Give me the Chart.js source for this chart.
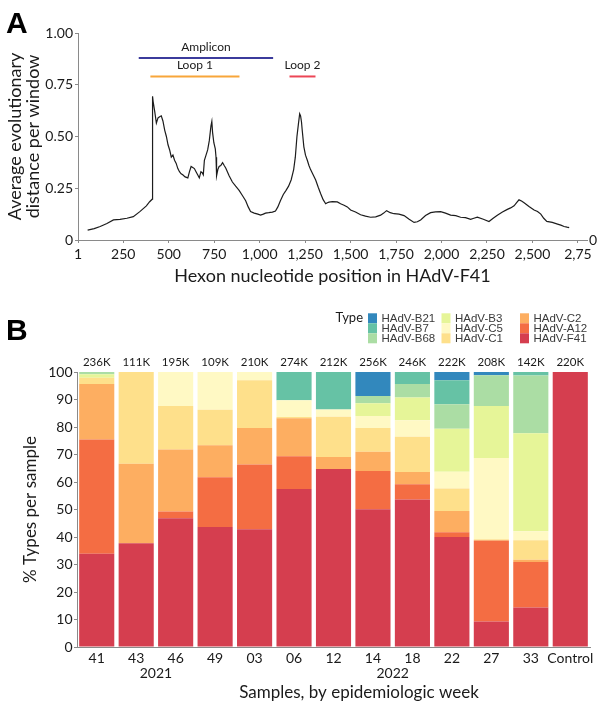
<!DOCTYPE html>
<html>
<head>
<meta charset="utf-8">
<script src="https://cdn.jsdelivr.net/npm/chart.js@4/dist/chart.umd.min.js"></script>
<style>
  body { margin: 0; background: #fff; }
  #wrap { position: relative; width: 600px; height: 704px; }
  .panel { position: absolute; left: 0; width: 600px; }
  .letter { position: absolute; left: 6px; font: bold 30px 'Liberation Sans', Arial, sans-serif; line-height: 30px; color: #000; }
</style>
</head>
<body>
<div id="wrap">
  <div class="panel" style="top:0;height:290px"><canvas id="distChart" width="600" height="290"></canvas></div>
  <div class="panel" style="top:290px;height:414px"><canvas id="typeChart" width="600" height="414"></canvas></div>
  <div class="letter" style="top:8px">A</div>
  <div class="letter" style="top:315px">B</div>
</div>
<script>
/* ---- Panel A: evolutionary distance along the hexon gene ---- */
const positions = [54, 90, 123, 160, 196, 232, 270, 305, 341, 377, 395, 409, 411, 414, 423, 432, 441, 450, 459, 468,
  478, 487, 496, 505, 514, 523, 532, 541, 550, 559, 568, 577, 590, 605, 614, 623, 632, 641, 650, 659,
  668, 677, 684, 690, 696, 705, 714, 723, 732, 737, 741, 748, 756, 760, 763, 770, 777, 786, 796, 805,
  814, 832, 850, 868, 887, 905, 923, 937, 950, 970, 990, 1005, 1020, 1032, 1050, 1070, 1087, 1100, 1114, 1130,
  1145, 1159, 1173, 1187, 1196, 1205, 1213, 1220, 1225, 1230, 1234, 1243, 1252, 1262, 1271, 1280, 1294, 1308, 1322, 1335,
  1349, 1363, 1372, 1381, 1400, 1427, 1445, 1464, 1482, 1500, 1527, 1555, 1582, 1610, 1638, 1665, 1682, 1698, 1718, 1739,
  1766, 1794, 1822, 1849, 1867, 1885, 1912, 1940, 1967, 1995, 2022, 2050, 2078, 2105, 2132, 2160, 2178, 2197, 2230, 2261,
  2284, 2307, 2335, 2362, 2380, 2399, 2413, 2426, 2440, 2454, 2481, 2509, 2528, 2546, 2562, 2579, 2609, 2638, 2656, 2674,
  2690, 2702];
const distance = [0.048, 0.055, 0.065, 0.08, 0.097, 0.10, 0.105, 0.113, 0.137, 0.165, 0.185, 0.197, 0.694, 0.67, 0.62, 0.565, 0.59, 0.595, 0.60, 0.575,
  0.53, 0.50, 0.46, 0.435, 0.40, 0.41, 0.385, 0.37, 0.345, 0.33, 0.32, 0.315, 0.305, 0.30, 0.33, 0.355, 0.35, 0.345, 0.33, 0.315,
  0.30, 0.33, 0.325, 0.315, 0.385, 0.41, 0.435, 0.48, 0.55, 0.573, 0.52, 0.47, 0.44, 0.40, 0.31, 0.34, 0.355, 0.36, 0.374, 0.36,
  0.347, 0.31, 0.28, 0.26, 0.24, 0.215, 0.19, 0.16, 0.137, 0.13, 0.125, 0.12, 0.125, 0.13, 0.132, 0.135, 0.14, 0.16, 0.19, 0.22,
  0.24, 0.26, 0.29, 0.34, 0.40, 0.50, 0.56, 0.61, 0.60, 0.57, 0.53, 0.45, 0.41, 0.385, 0.36, 0.34, 0.315, 0.29, 0.255, 0.225,
  0.195, 0.175, 0.18, 0.183, 0.185, 0.184, 0.175, 0.168, 0.16, 0.145, 0.135, 0.122, 0.115, 0.11, 0.112, 0.12, 0.13, 0.142, 0.132, 0.127,
  0.125, 0.118, 0.10, 0.085, 0.088, 0.097, 0.118, 0.132, 0.136, 0.137, 0.13, 0.12, 0.118, 0.11, 0.108, 0.10, 0.105, 0.11, 0.10, 0.089,
  0.105, 0.12, 0.135, 0.148, 0.155, 0.165, 0.18, 0.194, 0.188, 0.18, 0.162, 0.145, 0.138, 0.125, 0.105, 0.09, 0.085, 0.077, 0.072, 0.065,
  0.062, 0.06];
const xTicks = [1, 250, 500, 750, 1000, 1250, 1500, 1750, 2000, 2250, 2500, 2750];

const regionNames = ['Amplicon', 'Loop 1', 'Loop 2'];
const regionStart = [335, 399, 1164];
const regionEnd = [1074, 889, 1307];
const regionLevel = [0.879, 0.79, 0.79];
const regionColors = ['#3b3b9c', '#f8a63a', '#ec4656'];

/* ---- Panel B: type composition per sample ---- */
const weeks = ['41', '43', '46', '49', '03', '06', '12', '14', '18', '22', '27', '33', 'Control'];
const readCounts = ['236K', '111K', '195K', '109K', '210K', '274K', '212K', '256K', '246K', '222K', '208K', '142K', '220K'];
const years = ['2021', '2022'];
const yearFirst = [0, 4];
const yearLast = [3, 11];

const typeNames = ['HAdV-F41', 'HAdV-A12', 'HAdV-C2', 'HAdV-C1', 'HAdV-C5', 'HAdV-B3', 'HAdV-B68', 'HAdV-B7', 'HAdV-B21'];
const typeColors = ['#d53e4f', '#f46d43', '#fdae61', '#fee08b', '#fff9c4', '#e6f598', '#abdda4', '#66c2a5', '#3288bd'];
const F41 = [33.9, 37.7, 46.8, 43.6, 42.8, 57.5, 64.7, 50.1, 53.6, 40.0, 9.3, 14.4, 100];
const A12 = [41.6, 0, 2.5, 18.1, 23.6, 11.9, 0, 13.9, 5.6, 1.7, 29.3, 16.5, 0];
const C2 = [20.1, 28.9, 22.5, 11.7, 13.2, 13.8, 4.4, 7.0, 4.4, 7.8, 0.3, 0.8, 0];
const C1 = [2.3, 33.4, 15.8, 12.9, 17.4, 0.4, 14.6, 8.6, 12.9, 8.1, 0.3, 7.1, 0];
const C5 = [0, 0, 12.4, 13.7, 3.0, 6.1, 2.7, 4.4, 6.0, 6.1, 29.5, 3.3, 0];
const B3 = [1.3, 0, 0, 0, 0, 0, 0, 4.6, 8.2, 15.7, 18.9, 35.6, 0];
const B68 = [0.8, 0, 0, 0, 0, 0, 0, 2.7, 4.9, 8.9, 11.2, 21.0, 0];
const B7 = [0, 0, 0, 0, 0, 10.3, 13.6, 0, 4.4, 8.7, 0, 1.3, 0];
const B21 = [0, 0, 0, 0, 0, 0, 0, 8.7, 0, 3.0, 1.2, 0, 0];
const typeValues = [F41, A12, C2, C1, C5, B3, B68, B7, B21];

Chart.defaults.font.family = 'Lato, sans-serif';
Chart.defaults.color = '#1a1a1a';

const AXIS = '#8a8a8a';
const INK = '#1a1a1a';

// text labels above the amplicon / loop bars
const regionLabels = {
  id: 'regionLabels',
  afterDatasetsDraw(chart) {
    const { ctx, scales: { x, y } } = chart;
    ctx.save();
    ctx.font = '12px Lato';
    ctx.fillStyle = INK;
    ctx.textAlign = 'center';
    ctx.textBaseline = 'bottom';
    regionNames.forEach((name, i) => {
      const cx = x.getPixelForValue((regionStart[i] + regionEnd[i]) / 2);
      ctx.fillText(name, cx, y.getPixelForValue(regionLevel[i]) - 5);
    });
    ctx.restore();
  },
};

new Chart(document.getElementById('distChart'), {
  type: 'line',
  data: {
    datasets: [
      {
        data: positions.map((p, i) => ({ x: p, y: distance[i] })),
        borderColor: '#1c1c1c',
        borderWidth: 1.2,
        pointRadius: 0,
        tension: 0,
      },
      ...regionNames.map((name, i) => ({
        label: name,
        data: [{ x: regionStart[i], y: regionLevel[i] }, { x: regionEnd[i], y: regionLevel[i] }],
        borderColor: regionColors[i],
        borderWidth: 2,
        pointRadius: 0,
      })),
    ],
  },
  options: {
    responsive: false,
    animation: false,
    layout: { padding: { top: 33, left: 0, right: 0, bottom: 0 } },
    plugins: { legend: { display: false }, tooltip: { enabled: false } },
    scales: {
      x: {
        type: 'linear',
        min: 1,
        max: 2800,
        afterBuildTicks: a => { a.ticks = xTicks.map(v => ({ value: v })); },
        afterFit: s => { s.height = 50; },
        grid: { drawOnChartArea: false, tickLength: 3, color: AXIS },
        border: { color: AXIS },
        ticks: {
          autoSkip: false,
          maxRotation: 0,
          padding: 3,
          color: INK,
          font: { size: 14 },
          callback: v => (v === 2750 ? '2,75' : v.toLocaleString('en-US')),
        },
        title: {
          display: true,
          text: 'Hexon nucleotide position in HAdV-F41',
          color: INK,
          font: { size: 18, lineHeight: 1 },
          padding: { top: 0, bottom: 5 },
        },
      },
      y: {
        min: 0,
        max: 1,
        afterFit: s => { s.width = 78; },
        grid: { drawOnChartArea: false, tickLength: 3, color: AXIS },
        border: { color: AXIS },
        ticks: {
          stepSize: 0.25,
          padding: 2,
          color: INK,
          font: { size: 14 },
          callback: v => (v === 0 ? '0' : v.toFixed(2)),
        },
        title: {
          display: true,
          text: ['Average evolutionary', 'distance per window'],
          color: INK,
          font: { size: 18, lineHeight: 1 },
          padding: { top: 6, bottom: 0 },
        },
      },
      y2: {
        position: 'right',
        min: 0,
        max: 1,
        afterBuildTicks: a => { a.ticks = [{ value: 0 }]; },
        afterFit: s => { s.width = 13; },
        grid: { display: false, drawTicks: false },
        border: { display: false },
        ticks: { padding: 2, color: INK, font: { size: 14 }, callback: () => '0' },
      },
    },
  },
  plugins: [regionLabels],
});

// read counts, years, x title and the 3-column type legend
const typeExtras = {
  id: 'typeExtras',
  afterDraw(chart) {
    const { ctx, scales: { x, y } } = chart;
    ctx.save();
    ctx.fillStyle = INK;
    ctx.textAlign = 'center';
    ctx.textBaseline = 'middle';

    ctx.font = '11.5px Lato';
    readCounts.forEach((c, i) => ctx.fillText(c, x.getPixelForValue(i), y.top - 10));

    ctx.font = '14px Lato';
    years.forEach((yr, i) => {
      const cx = (x.getPixelForValue(yearFirst[i]) + x.getPixelForValue(yearLast[i])) / 2;
      ctx.fillText(yr, cx, 383);
    });

    ctx.font = '17px Lato';
    ctx.fillText('Samples, by epidemiologic week', 359, 403);

    ctx.font = '13px Lato';
    ctx.textAlign = 'right';
    ctx.fillText('Type', 363, 28);

    const colX = [368, 441.5, 520];
    const legendItems = chart.data.datasets.slice().reverse();
    ctx.textAlign = 'left';
    ctx.font = '11.5px "Liberation Sans", Arial, sans-serif';
    legendItems.forEach((ds, k) => {
      const col = Math.floor(k / 3);
      const row = k % 3;
      ctx.fillStyle = ds.backgroundColor;
      ctx.fillRect(colX[col], 23.3 + row * 10, 9, 10);
      ctx.fillStyle = '#3a3a3a';
      ctx.fillText(ds.label, colX[col] + 13.5, 28.5 + row * 10);
    });
    ctx.restore();
  },
};

new Chart(document.getElementById('typeChart'), {
  type: 'bar',
  data: {
    labels: weeks,
    datasets: typeNames.map((name, i) => ({
      label: name,
      data: typeValues[i],
      backgroundColor: typeColors[i],
      borderWidth: 0,
      barPercentage: 0.89,
      categoryPercentage: 1,
    })),
  },
  options: {
    responsive: false,
    animation: false,
    layout: { padding: { top: 82, left: 0, right: 10, bottom: 0 } },
    plugins: { legend: { display: false }, tooltip: { enabled: false } },
    scales: {
      x: {
        stacked: true,
        afterFit: s => { s.height = 57; },
        grid: { display: false, drawTicks: false },
        border: { color: AXIS },
        ticks: { padding: 3, color: INK, font: { size: 14 }, maxRotation: 0, autoSkip: false },
      },
      y: {
        stacked: true,
        min: 0,
        max: 100,
        afterFit: s => { s.width = 77; },
        grid: { drawOnChartArea: false, tickLength: 3, color: AXIS },
        border: { color: AXIS },
        ticks: { stepSize: 10, padding: 1.5, color: INK, font: { size: 14 } },
        title: {
          display: true,
          text: '% Types per sample',
          color: INK,
          font: { size: 17, lineHeight: 1 },
          padding: { top: 22, bottom: 0 },
        },
      },
    },
  },
  plugins: [typeExtras],
});
</script>
</body>
</html>
